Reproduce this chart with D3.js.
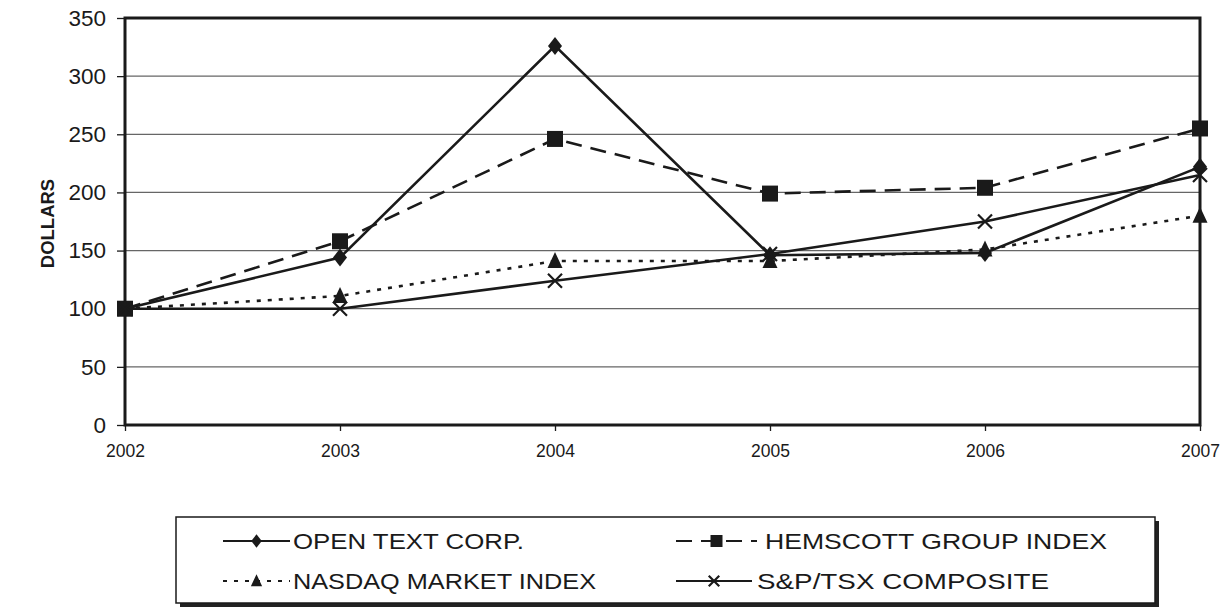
<!DOCTYPE html>
<html>
<head>
<meta charset="utf-8">
<script src="https://cdn.jsdelivr.net/npm/d3@7"></script>
<style>
  html, body { margin: 0; padding: 0; background: #fff; }
  svg { display: block; }
  text { font-family: "Liberation Sans", Arial, sans-serif; fill: #1a1a1a; }
</style>
</head>
<body>
<svg id="chart" width="1229" height="608"></svg>
<script>
const years = ["2002", "2003", "2004", "2005", "2006", "2007"];
const openText = [100, 144, 326, 146, 148, 222];
const hemscott = [100, 158, 246, 199, 204, 255];
const nasdaq   = [100, 111, 141, 141, 151, 180];
const spTsx    = [100, 100, 124, 147, 175, 215];
const seriesNames = ["OPEN TEXT CORP.", "HEMSCOTT GROUP INDEX", "NASDAQ MARKET INDEX", "S&P/TSX COMPOSITE"];
const yTicks = [0, 50, 100, 150, 200, 250, 300, 350];
const yTitle = "DOLLARS";

const series = [
  { name: seriesNames[0], values: openText, dash: null, marker: "diamond" },
  { name: seriesNames[1], values: hemscott, dash: "16,9", marker: "square" },
  { name: seriesNames[2], values: nasdaq, dash: "4,7", marker: "triangle" },
  { name: seriesNames[3], values: spTsx, dash: null, marker: "cross" }
];

const svg = d3.select("#chart");
const M = { left: 125, right: 1200, top: 18, bottom: 425 };
const ink = "#1a1a1a";

const x = d3.scalePoint().domain(years).range([M.left, M.right]);
const y = d3.scaleLinear().domain([0, 350]).range([M.bottom, M.top]);

// gridlines
svg.append("g").selectAll("line").data(yTicks.filter(t => t > 0 && t < 350)).join("line")
  .attr("x1", M.left).attr("x2", M.right)
  .attr("y1", d => y(d)).attr("y2", d => y(d))
  .attr("stroke", "#666").attr("stroke-width", 1.3);

// y axis
const yAxis = svg.append("g").attr("transform", `translate(${M.left},0)`)
  .call(d3.axisLeft(y).tickValues(yTicks).tickSize(8).tickPadding(11));
yAxis.select(".domain").remove();
yAxis.selectAll("line").attr("stroke", ink).attr("stroke-width", 1.3);
yAxis.selectAll("text").style("font-size", "22.5px").attr("fill", ink);

// x axis
const xAxis = svg.append("g").attr("transform", `translate(0,${M.bottom})`)
  .call(d3.axisBottom(x).tickSize(6).tickPadding(14));
xAxis.select(".domain").remove();
xAxis.selectAll("line").attr("stroke", ink).attr("stroke-width", 1.3);
xAxis.selectAll("text").style("font-size", "17.5px").attr("fill", ink);

// plot frame
svg.append("rect").attr("x", M.left).attr("y", M.top)
  .attr("width", M.right - M.left).attr("height", M.bottom - M.top)
  .attr("fill", "none").attr("stroke", ink).attr("stroke-width", 3);

// y title
svg.append("text")
  .attr("transform", `translate(54,${(M.top + M.bottom) / 2 + 2}) rotate(-90)`)
  .attr("text-anchor", "middle")
  .style("font-size", "18.5px").style("font-weight", "bold")
  .text(yTitle);

function drawMarker(g, type, cx, cy, k) {
  k = k || 1;
  if (type === "diamond") {
    g.append("path").attr("d", `M${cx},${cy - 9 * k} L${cx + 7 * k},${cy} L${cx},${cy + 9 * k} L${cx - 7 * k},${cy} Z`)
      .attr("fill", ink);
  } else if (type === "square") {
    g.append("rect").attr("x", cx - 8 * k).attr("y", cy - 8 * k).attr("width", 16 * k).attr("height", 16 * k).attr("fill", ink);
  } else if (type === "triangle") {
    g.append("path").attr("d", `M${cx},${cy - 9 * k} L${cx + 7.5 * k},${cy + 7 * k} L${cx - 7.5 * k},${cy + 7 * k} Z`).attr("fill", ink);
  } else if (type === "cross") {
    g.append("path").attr("d", `M${cx - 7 * k},${cy - 7 * k} L${cx + 7 * k},${cy + 7 * k} M${cx + 7 * k},${cy - 7 * k} L${cx - 7 * k},${cy + 7 * k}`)
      .attr("stroke", ink).attr("stroke-width", 2.2).attr("fill", "none");
  }
}

const line = d3.line().x((d, i) => x(years[i])).y(d => y(d));
const plot = svg.append("g");
series.forEach(s => {
  plot.append("path").datum(s.values).attr("d", line)
    .attr("fill", "none").attr("stroke", ink).attr("stroke-width", 2.6)
    .attr("stroke-dasharray", s.dash);
});
series.forEach(s => {
  const g = plot.append("g");
  s.values.forEach((v, i) => drawMarker(g, s.marker, x(years[i]), y(v), 1));
});

// legend
const L = { x: 176, y: 517, w: 979, h: 86 };
svg.append("rect").attr("x", L.x + 4).attr("y", L.y + 4).attr("width", L.w).attr("height", L.h).attr("fill", "#222");
svg.append("rect").attr("x", L.x).attr("y", L.y).attr("width", L.w).attr("height", L.h)
  .attr("fill", "#fff").attr("stroke", ink).attr("stroke-width", 1.5);

const legPos = [
  { lx1: 223, lx2: 290, tx: 293, ty: 541, tw: 231 },
  { lx1: 676, lx2: 757, tx: 765, ty: 541, tw: 342 },
  { lx1: 223, lx2: 290, tx: 293, ty: 581, tw: 303 },
  { lx1: 676, lx2: 752, tx: 757, ty: 581, tw: 292 }
];
series.forEach((s, i) => {
  const p = legPos[i];
  const g = svg.append("g");
  g.append("line").attr("x1", p.lx1).attr("x2", p.lx2).attr("y1", p.ty).attr("y2", p.ty)
    .attr("stroke", ink).attr("stroke-width", 2.2)
    .attr("stroke-dasharray", s.dash);
  drawMarker(g, s.marker, (p.lx1 + p.lx2) / 2, p.ty, 0.75);
  g.append("text").attr("x", p.tx).attr("y", p.ty).attr("dy", "0.36em")
    .attr("textLength", p.tw).attr("lengthAdjust", "spacingAndGlyphs")
    .style("font-size", "22.5px").text(s.name);
});
</script>
</body>
</html>
